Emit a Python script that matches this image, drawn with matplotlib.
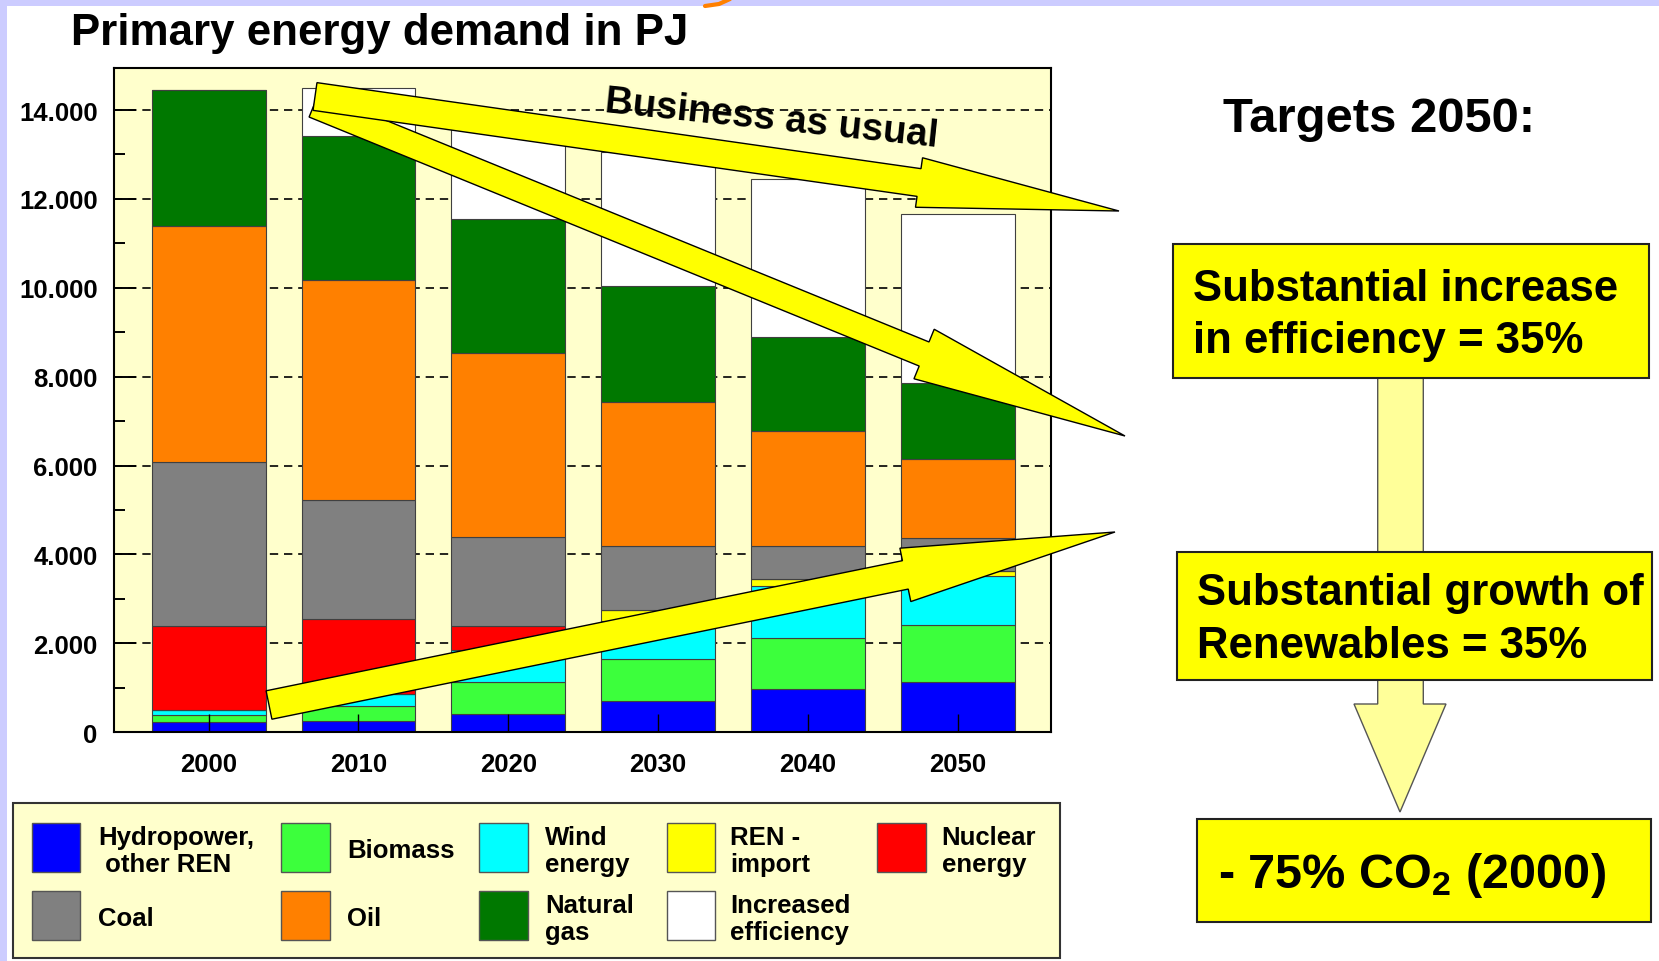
import numpy as np
import matplotlib.pyplot as plt
from matplotlib.patches import Polygon, Rectangle

plt.rcParams['font.family'] = ['Liberation Sans', 'DejaVu Sans']
plt.rcParams['font.weight'] = 'bold'
plt.rcParams['mathtext.fontset'] = 'custom'
plt.rcParams['mathtext.rm'] = 'Liberation Sans:bold'
plt.rcParams['mathtext.bf'] = 'Liberation Sans:bold'
plt.rcParams['mathtext.default'] = 'bf'

# data (PJ)
years = ['2000', '2010', '2020', '2030', '2040', '2050']
hydro = [220, 250, 420, 710, 980, 1130]
biomass = [160, 350, 710, 930, 1140, 1280]
wind = [120, 250, 720, 870, 1180, 1110]
ren_import = [0, 0, 0, 240, 150, 100]
nuclear = [1880, 1690, 530, 0, 0, 0]
coal = [3700, 2690, 2020, 1450, 730, 760]
oil = [5320, 4940, 4140, 3220, 2600, 1760]
gas = [3050, 3240, 3000, 2630, 2110, 1710]
efficiency = [0, 1080, 2080, 3000, 3550, 3820]

yticks = [0, 2000, 4000, 6000, 8000, 10000, 12000, 14000]
ytick_labels = ['0', '2.000', '4.000', '6.000', '8.000', '10.000', '12.000', '14.000']

layers = [
    (hydro, '#0000FF', 'Hydropower,\n other REN'),
    (biomass, '#3CFF3C', 'Biomass'),
    (wind, '#00FFFF', 'Wind\nenergy'),
    (ren_import, '#FFFF00', 'REN -\nimport'),
    (nuclear, '#FF0000', 'Nuclear\nenergy'),
    (coal, '#808080', 'Coal'),
    (oil, '#FF8000', 'Oil'),
    (gas, '#007800', 'Natural\ngas'),
    (efficiency, '#FFFFFF', 'Increased\nefficiency'),
]

W, H = 1659, 962
fig = plt.figure(figsize=(W / 100, H / 100), dpi=100)
fig.patch.set_facecolor('white')

# chart axes (pixel box 114..1051, 69..733)
ax = fig.add_axes([114.3 / W, 1 - 733.2 / H, (1050.6 - 114.3) / W, (733.2 - 68.8) / H])
ax.set_facecolor('#FFFFCC')

x = np.arange(len(years))
bottom = np.zeros(len(years))
for vals, col, name in layers:
    ax.bar(x, vals, 0.76, bottom=bottom, color=col, edgecolor='#404040',
           linewidth=0.8, zorder=2)
    bottom += np.array(vals)

for yv in yticks[1:]:
    ax.axhline(yv, color='black', lw=1.2, ls=(0, (5, 3.5)), zorder=1)

ax.set_xlim(-0.63, 5.62)
ax.set_ylim(0, 14950)
ax.set_xticks(x)
ax.set_xticklabels(years, fontsize=18.5, fontweight='bold')
ax.set_yticks(yticks)
ax.set_yticklabels(ytick_labels, fontsize=18.5, fontweight='bold')
ax.set_yticks(np.arange(1000, 14001, 2000), minor=True)
ax.tick_params(axis='y', which='major', direction='in', length=16, width=1.4, pad=12)
ax.tick_params(axis='y', which='minor', direction='in', length=8, width=1.4)
ax.tick_params(axis='x', which='major', direction='in', length=13, width=1.0, pad=14)
ax.set_axisbelow(False)
for s in ax.spines.values():
    s.set_linewidth(1.5)

# overlay in pixel coords for legend and annotations
ov = fig.add_axes([0, 0, 1, 1], zorder=10)
ov.set_xlim(0, W)
ov.set_ylim(H, 0)
ov.axis('off')
ov.patch.set_alpha(0)

# slide border
ov.add_patch(Rectangle((0, 0), W, 7, color='#CCCCFF', lw=0))
ov.add_patch(Rectangle((0, 0), 7, H, color='#CCCCFF', lw=0))
ov.plot([705, 719, 730], [7, 5, 0], color='#FF8000', lw=3, solid_capstyle='round')

# legend: 2 rows x 5 columns
ov.add_patch(Rectangle((12.7, 804), 1060 - 12.7, 958.5 - 804, facecolor='#FFFFCC',
                       edgecolor='#333333', lw=1.5))
col_x = [31.7, 281.4, 479.3, 666.5, 877]
text_x = [98.4, 347, 545, 730, 941.6]
row_y = [848.5, 916.5]
for i, (vals, col, name) in enumerate(layers):
    r, c = divmod(i, 5)
    ov.add_patch(Rectangle((col_x[c], row_y[r] - 24.4), 48.7, 48.7, facecolor=col,
                           edgecolor='#555555', lw=1.0))
    ov.text(text_x[c], row_y[r] + 3, name, fontsize=18.5, fontweight='bold', ha='left',
            va='center', linespacing=1.13)


def arrow_poly(tail, tip, w, hw, hl):
    tail = np.array(tail, float)
    tip = np.array(tip, float)
    u = (tip - tail) / np.hypot(*(tip - tail))
    p = np.array([-u[1], u[0]])
    base = tip - u * hl
    return [tail + p * w / 2, base + p * w / 2, base + p * hw / 2, tip,
            base - p * hw / 2, base - p * w / 2, tail - p * w / 2]


arrow_style = dict(facecolor='#FFFF00', edgecolor='black', lw=1.0, joinstyle='miter')
ov.add_patch(Polygon(arrow_poly((269, 706), (1115, 533), 29, 54.5, 214), **arrow_style))
ov.add_patch(Polygon(arrow_poly((314, 106), (1125, 437), 26, 53.5, 217), **arrow_style))
ov.add_patch(Polygon(arrow_poly((315, 97.5), (1119, 212), 28, 50, 202), **arrow_style))

ov.text(770, 129.5, 'Business as usual', fontsize=27.6, fontweight='bold', rotation=-6,
        rotation_mode='anchor', ha='center', va='baseline')

ov.text(71, 45, 'Primary energy demand in PJ', fontsize=31.6, fontweight='bold',
        ha='left', va='baseline')

# right side targets
ov.text(1223, 132, 'Targets 2050:', fontsize=35.3, fontweight='bold', ha='left', va='baseline')

conn = [(1377.7, 377), (1423.3, 377), (1423.3, 705), (1446, 705), (1400, 813),
        (1354, 705), (1377.7, 705)]
ov.add_patch(Polygon(conn, facecolor='#FFFF99', edgecolor='#555555', lw=1.0, zorder=1))

box_style = dict(facecolor='#FFFF00', edgecolor='#222222', lw=1.5, zorder=2)
ov.add_patch(Rectangle((1173.3, 245), 1649 - 1173.3, 379 - 245, **box_style))
ov.add_patch(Rectangle((1177, 553), 1652 - 1177, 681 - 553, **box_style))
ov.add_patch(Rectangle((1197, 820), 1651 - 1197, 922.6 - 820, **box_style))

ov.text(1193, 301.5, 'Substantial increase', fontsize=31.5, fontweight='bold', va='baseline', zorder=3)
ov.text(1193, 353, 'in efficiency = 35%', fontsize=31.5, fontweight='bold', va='baseline', zorder=3)
ov.text(1196.7, 605, 'Substantial growth of', fontsize=31.5, fontweight='bold', va='baseline', zorder=3)
ov.text(1196.7, 658, 'Renewables = 35%', fontsize=31.5, fontweight='bold', va='baseline', zorder=3)
ov.text(1218, 888, '- 75% CO$_2$ (2000)', fontsize=35, fontweight='bold', va='baseline', zorder=3)

fig.savefig('out.png', dpi=100)
